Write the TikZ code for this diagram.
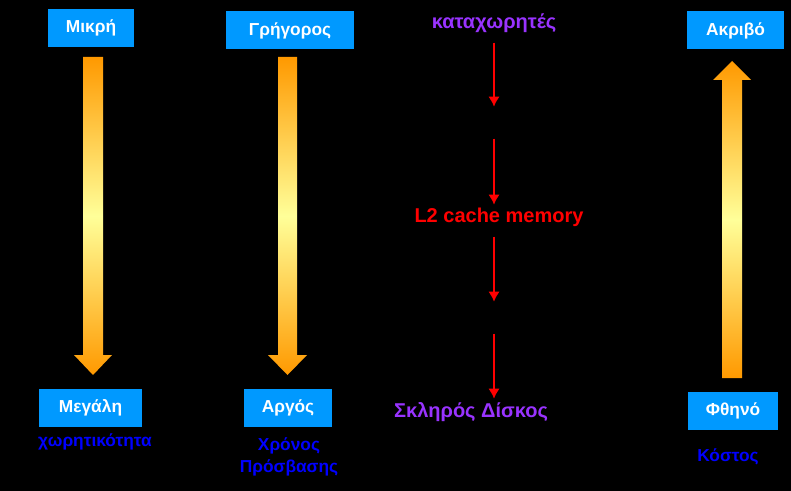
\documentclass[tikz,border=0pt]{standalone}
\usepackage{fontspec}
\setmainfont{Liberation Sans}
\usepackage{tikz}
\usetikzlibrary{arrows.meta}
\usetikzlibrary{positioning}
\definecolor{boxblue}{HTML}{0099FF}
\definecolor{textblue}{HTML}{0000FF}
\definecolor{regpurple}{HTML}{9933FF}
\definecolor{arrorange}{HTML}{FF9900}
\definecolor{arrpale}{HTML}{FFFF99}
\definecolor{memred}{HTML}{FF0000}

\begin{document}
\begin{tikzpicture}[x=0.75pt,y=-0.75pt,
    levelbox/.style={fill=boxblue,text=white,inner sep=0pt,minimum height=28.5pt,
        font=\bfseries\fontsize{13}{15}\selectfont},
    caption/.style={text=textblue,align=center,inner sep=0pt,
        font=\bfseries\fontsize{13}{16.5}\selectfont},
    memlevel/.style={inner sep=0pt,text height=10.5pt,text depth=3pt,
        font=\bfseries\fontsize{15}{17}\selectfont},
    memarrow/.style={-{Latex[length=7.5pt,width=8.5pt]},color=memred,line width=1.5pt,
        shorten <=7pt,shorten >=3pt}]
            \fill[black] (0,0) rectangle (791,491);

            % boxes
            \node[levelbox,minimum width=64.5pt] (small) at (91,28) {Μικρή};
            \node[levelbox,minimum width=96pt] (fast) at (290,30.5) {Γρήγορος};
            \node[levelbox,minimum width=72.75pt] (dear) at (735.5,30.5) {Ακριβό};
            \node[levelbox,minimum width=77.25pt] (large) at (90.5,407.5) {Μεγάλη};
            \node[levelbox,minimum width=66pt] (slow) at (288,407.5) {Αργός};
            \node[levelbox,minimum width=67.5pt] (cheap) at (733,410.5) {Φθηνό};

            \node[caption] (capacity) at (95,442) {χωρητικότητα};
            \node[caption] (access) at (289,457) {Χρόνος\\Πρόσβασης};
            \node[caption] (cost) at (728,457) {Κόστος};

            % block arrows
            \shade[top color=arrorange,bottom color=arrorange,middle color=arrpale]
                (83,57) -- (103,57) -- (103,355) -- (112,355) -- (93,375) -- (74,355) -- (83,355) -- cycle;
            \shade[top color=arrorange,bottom color=arrorange,middle color=arrpale]
                (278,57) -- (297,57) -- (297,355) -- (307,355) -- (287.5,375) -- (268,355) -- (278,355) -- cycle;
            \shade[top color=arrorange,bottom color=arrorange,middle color=arrpale]
                (722,378) -- (742,378) -- (742,80) -- (751,80) -- (732,61) -- (713,80) -- (722,80) -- cycle;

            % memory hierarchy
            \node[memlevel,text=regpurple] (reg) at (494,24) {καταχωρητές};
            \node[memlevel,text=black] (l1) at (499,120) {L1 cache memory};
            \node[memlevel,text=memred] (l2) at (499,218) {L2 cache memory};
            \node[memlevel,text=black] (ram) at (472,315) {Κεντρική Μνήμη};
            \node[memlevel,text=regpurple] (disk) at (471,412) {Σκληρός Δίσκος};

            \draw[memarrow] (reg.south) -- (reg.south |- l1.north);
            \draw[memarrow] (reg.south |- l1.south) -- (reg.south |- l2.north);
            \draw[memarrow] (reg.south |- l2.south) -- (reg.south |- ram.north);
            \draw[memarrow] (reg.south |- ram.south) -- (reg.south |- disk.north);
        \end{tikzpicture}
\end{document}
